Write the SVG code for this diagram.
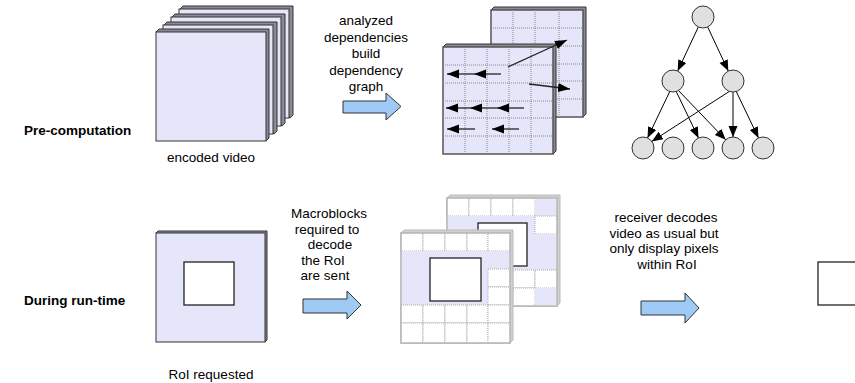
<svg xmlns="http://www.w3.org/2000/svg" width="855" height="383" viewBox="0 0 855 383">
<defs>
<style>
text{font-family:"Liberation Sans",Arial,sans-serif;font-size:13.5px;fill:#000}
.lbl{font-weight:bold}
.c{text-anchor:middle}
.frm{fill:#e6e6fa;stroke:#333;stroke-width:1}
.side{fill:#8a8a96;stroke:#333;stroke-width:1}
.gfrm{fill:#e6e6fa;stroke:#555;stroke-width:1.5}
.gl{stroke:#888;stroke-width:1;stroke-dasharray:1,1;fill:none}
.rside{fill:#d0d0d0;stroke:#bbb;stroke-width:1}
.rfrm{fill:#fff;stroke:#bbb;stroke-width:1.5}
.wc{fill:#fff;stroke:#aaa;stroke-width:1;stroke-dasharray:1,1}
.lc{fill:#e6e6fa;stroke:none}
.roi{fill:#fff;stroke:#222;stroke-width:1.3}
.blk{fill:#9fcaf5;stroke:#333;stroke-width:1}
.ga{stroke:#222;stroke-width:1.3;fill:none;marker-end:url(#ah)}
.ta{stroke:#000;stroke-width:1;fill:none;marker-end:url(#ah2)}
.nd{fill:#e0e0e0;stroke:#333;stroke-width:1}
</style>
<marker id="ah" markerUnits="userSpaceOnUse" markerWidth="13" markerHeight="10" refX="12" refY="4.5" orient="auto"><path d="M0,0 L12,4.5 L0,9 z" fill="#000"/></marker>
<marker id="ah2" markerUnits="userSpaceOnUse" markerWidth="12" markerHeight="10" refX="11" refY="4.5" orient="auto"><path d="M0,0 L11,4.5 L0,9 z" fill="#000"/></marker>
</defs>
<rect width="855" height="383" fill="#fff"/>

<g id="label-precomp"><text class="lbl" x="24" y="135">Pre-computation</text></g>
<g id="label-runtime"><text class="lbl" x="24" y="305">During run-time</text></g>

<g id="encoded-video">
<polygon class="side" points="180,9 183,6 293,6 293,115 290,118"/>
<rect class="frm" x="179" y="9" width="110" height="109"/>
<polygon class="side" points="172,17 175,14 285,14 285,123 282,126"/>
<rect class="frm" x="171" y="17" width="110" height="109"/>
<polygon class="side" points="164,25 167,22 277,22 277,131 274,134"/>
<rect class="frm" x="163" y="25" width="110" height="109"/>
<polygon class="side" points="156,32 159,29 269,29 269,138 266,141"/>
<rect class="frm" x="156" y="32" width="110" height="109"/>
<text class="c" x="211" y="162">encoded video</text>
</g>

<g id="step1-label">
<text class="c" x="366" y="25">analyzed</text>
<text class="c" x="366" y="41.5">dependencies</text>
<text class="c" x="366" y="58">build</text>
<text class="c" x="366" y="74.5">dependency</text>
<text class="c" x="366" y="91">graph</text>
</g>
<g id="block-arrow-1"><polygon class="blk" points="343,101 386,101 386,93 401,106.5 386,120 386,113 343,113"/></g>

<g id="dependency-grids">
<polygon class="side" points="491,10 494,7 586,7 586,114 583,117"/>
<rect class="gfrm" x="491" y="10" width="92" height="107"/>
<path class="gl" d="M513,10V117M535,10V117M559,10V117M491,28H583M491,46H583M491,64H583M491,81H583M491,99H583"/>
<polygon class="side" points="443,47 446,44 556,44 556,151 553,154"/>
<rect class="gfrm" x="443" y="47" width="110" height="107"/>
<path class="gl" d="M465,47V154M487,47V154M509,47V154M531,47V154M443,65H553M443,83H553M443,101H553M443,118H553M443,136H553"/>
</g>

<g id="connectors">
<line class="ga" x1="508" y1="67" x2="567" y2="40"/>
<line class="ga" x1="529" y1="84" x2="570" y2="89"/>
<line class="ga" x1="501" y1="74" x2="474" y2="74"/>
<line class="ga" x1="474" y1="74" x2="447" y2="74"/>
<line class="ga" x1="524" y1="108" x2="497" y2="108"/>
<line class="ga" x1="497" y1="108" x2="470" y2="108"/>
<line class="ga" x1="470" y1="108" x2="446" y2="108"/>
<line class="ga" x1="475" y1="129" x2="447" y2="129"/>
<line class="ga" x1="519" y1="129" x2="492" y2="129"/>
<line class="ta" x1="698.3" y1="27" x2="677.7" y2="71"/>
<line class="ta" x1="707.7" y1="27" x2="728.3" y2="71"/>
<line class="ta" x1="670" y1="91" x2="647.5" y2="138"/>
<line class="ta" x1="676" y1="91" x2="698.5" y2="138"/>
<line class="ta" x1="678" y1="90" x2="725.7" y2="139.8"/>
<line class="ta" x1="730" y1="91" x2="651.8" y2="141.4"/>
<line class="ta" x1="733" y1="92" x2="733" y2="137"/>
<line class="ta" x1="736" y1="91" x2="758.5" y2="138"/>
</g>

<g id="graph-nodes">
<g id="n-top"><circle class="nd" cx="703" cy="17" r="11"/></g>
<g id="n-mid1"><circle class="nd" cx="673" cy="81" r="11"/></g>
<g id="n-mid2"><circle class="nd" cx="733" cy="81" r="11"/></g>
<g id="n-b1"><circle class="nd" cx="643" cy="148" r="11"/></g>
<g id="n-b2"><circle class="nd" cx="673" cy="148" r="11"/></g>
<g id="n-b3"><circle class="nd" cx="703" cy="148" r="11"/></g>
<g id="n-b4"><circle class="nd" cx="733" cy="148" r="11"/></g>
<g id="n-b5"><circle class="nd" cx="763" cy="148" r="11"/></g>
</g>

<g id="roi-requested">
<polygon class="side" points="156,233 158,231 267,231 267,340 265,342"/>
<rect class="frm" x="156" y="233" width="109" height="109"/>
<rect class="roi" x="184" y="262" width="50" height="43"/>
<text class="c" x="211" y="379">RoI requested</text>
</g>

<g id="step2-label">
<text class="c" x="329" y="218">Macroblocks</text>
<text class="c" x="327" y="233.5">required to</text>
<text class="c" x="330" y="249">decode</text>
<text class="c" x="323" y="264.5">the RoI</text>
<text class="c" x="325" y="280">are sent</text>
</g>
<g id="block-arrow-2"><polygon class="blk" points="303,299 347,299 347,291 361,305 347,319 347,313 303,313"/></g>

<g id="macroblock-frames">
<polygon class="rside" points="447,198 450,195 560,195 560,303 557,306"/>
<rect class="rfrm" x="447" y="198" width="110" height="108"/>
<rect class="wc" x="447" y="198" width="22" height="18"/>
<rect class="wc" x="469" y="198" width="22" height="18"/>
<rect class="wc" x="491" y="198" width="22" height="18"/>
<rect class="wc" x="513" y="198" width="22" height="18"/>
<rect class="lc" x="535" y="198" width="22" height="18"/>
<rect class="lc" x="447" y="216" width="88" height="54"/>
<rect class="wc" x="535" y="216" width="22" height="18"/>
<rect class="lc" x="535" y="234" width="22" height="36"/>
<rect class="wc" x="447" y="270" width="22" height="18"/>
<rect class="wc" x="469" y="270" width="22" height="18"/>
<rect class="wc" x="491" y="270" width="22" height="18"/>
<rect class="wc" x="513" y="270" width="22" height="18"/>
<rect class="wc" x="535" y="270" width="22" height="18"/>
<rect class="wc" x="447" y="288" width="22" height="18"/>
<rect class="wc" x="469" y="288" width="22" height="18"/>
<rect class="wc" x="491" y="288" width="22" height="18"/>
<rect class="wc" x="513" y="288" width="22" height="18"/>
<rect class="lc" x="535" y="288" width="22" height="18"/>
<rect x="447" y="198" width="110" height="108" fill="none" stroke="#bbb" stroke-width="1.5"/>
<rect class="roi" x="478" y="223" width="49" height="43"/>

<polygon class="rside" points="401,233 404,230 513,230 513,340 510,343"/>
<rect class="rfrm" x="401" y="233" width="109" height="110"/>
<rect class="wc" x="401" y="233" width="22" height="18"/>
<rect class="wc" x="423" y="233" width="22" height="18"/>
<rect class="wc" x="445" y="233" width="22" height="18"/>
<rect class="wc" x="467" y="233" width="21" height="18"/>
<rect class="wc" x="488" y="233" width="22" height="18"/>
<rect class="lc" x="401" y="251" width="87" height="54"/>
<rect class="lc" x="488" y="251" width="22" height="18"/>
<rect class="wc" x="488" y="269" width="22" height="18"/>
<rect class="wc" x="488" y="287" width="22" height="18"/>
<rect class="wc" x="401" y="305" width="22" height="18"/>
<rect class="wc" x="423" y="305" width="22" height="18"/>
<rect class="wc" x="445" y="305" width="22" height="18"/>
<rect class="wc" x="467" y="305" width="21" height="18"/>
<rect class="wc" x="488" y="305" width="22" height="18"/>
<rect class="wc" x="401" y="323" width="22" height="20"/>
<rect class="wc" x="423" y="323" width="22" height="20"/>
<rect class="wc" x="445" y="323" width="22" height="20"/>
<rect class="wc" x="467" y="323" width="21" height="20"/>
<rect class="wc" x="488" y="323" width="22" height="20"/>
<rect x="401" y="233" width="109" height="110" fill="none" stroke="#bbb" stroke-width="1.5"/>
<rect class="roi" x="430" y="258" width="51" height="43"/>
</g>

<g id="step3-label">
<text class="c" x="666" y="222">receiver decodes</text>
<text class="c" x="664" y="237.5">video as usual but</text>
<text class="c" x="664" y="253">only display pixels</text>
<text class="c" x="667" y="268.5">within RoI</text>
</g>
<g id="block-arrow-3"><polygon class="blk" points="641,301 685,301 685,293 699,308 685,323 685,315 641,315"/></g>

<g id="roi-display"><rect class="roi" x="818" y="262" width="50" height="43"/></g>
</svg>
